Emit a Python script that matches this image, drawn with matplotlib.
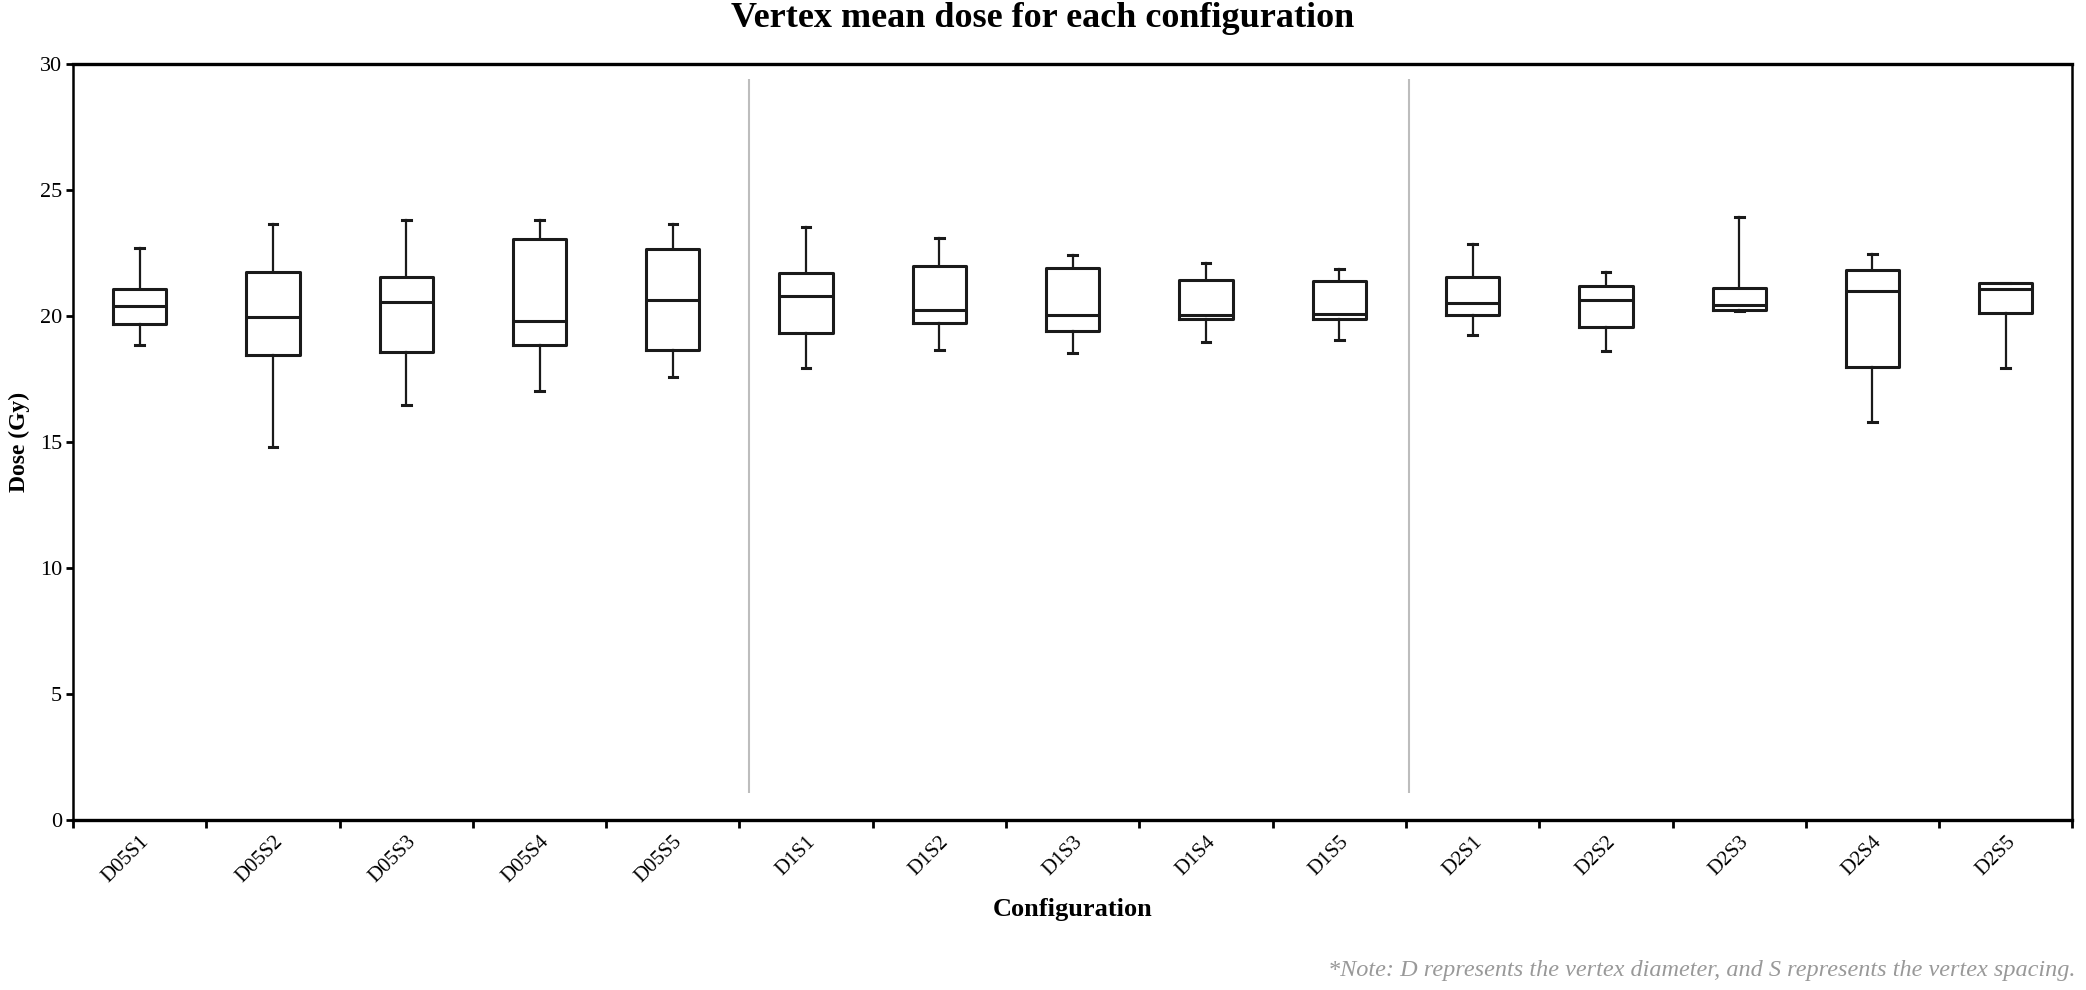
import numpy as np
import matplotlib.pyplot as plt
from matplotlib.ticker import FixedLocator

plt.rcParams['font.family'] = ['Liberation Serif', 'DejaVu Serif']

# configurations and box statistics
configs = ['D05S1', 'D05S2', 'D05S3', 'D05S4', 'D05S5',
           'D1S1', 'D1S2', 'D1S3', 'D1S4', 'D1S5',
           'D2S1', 'D2S2', 'D2S3', 'D2S4', 'D2S5']
whisker_low = [18.84, 14.79, 16.47, 17.03, 17.59,
               17.93, 18.67, 18.52, 18.96, 19.05,
               19.27, 18.61, 20.19, 15.81, 17.93]
q1 = [19.69, 18.44, 18.57, 18.84, 18.65,
      19.35, 19.73, 19.40, 19.87, 19.87,
      20.03, 19.56, 20.25, 17.99, 20.12]
median = [20.40, 19.97, 20.56, 19.80, 20.64,
          20.79, 20.25, 20.04, 20.03, 20.07,
          20.51, 20.65, 20.44, 21.00, 21.07]
q3 = [21.09, 21.77, 21.56, 23.07, 22.67,
      21.73, 21.99, 21.93, 21.43, 21.39,
      21.55, 21.20, 21.12, 21.85, 21.31]
whisker_high = [22.71, 23.67, 23.80, 23.80, 23.67,
                23.53, 23.11, 22.41, 22.11, 21.89,
                22.85, 21.77, 23.93, 22.47, 21.31]

stats = []
for i, name in enumerate(configs):
    stats.append({'label': name, 'whislo': whisker_low[i], 'q1': q1[i],
                  'med': median[i], 'q3': q3[i], 'whishi': whisker_high[i],
                  'fliers': []})

fig = plt.figure(figsize=(20.86, 9.9), dpi=100)
ax = fig.add_axes([0.035, 0.172, 0.9585, 0.763])

pos = np.arange(1, len(configs) + 1)
ax.bxp(stats, positions=pos, widths=0.4, showfliers=False, patch_artist=False,
       boxprops=dict(color='#1a1a1a', linewidth=2.2),
       medianprops=dict(color='#1a1a1a', linewidth=2.2),
       whiskerprops=dict(color='#1a1a1a', linewidth=1.6),
       capprops=dict(color='#1a1a1a', linewidth=2.2), capwidths=0.065)

# group separators
ax.vlines([5.575, 10.52], 1.05, 29.4, color='#bdbdbd', linewidth=1.5)

ax.set_xlim(0.5, 15.5)
ax.set_ylim(0, 30)
ax.set_yticks(range(0, 31, 5))
ax.set_xticks(pos)
ax.set_xticklabels(configs, rotation=45, ha='right', rotation_mode='anchor', fontsize=15)
ax.xaxis.set_minor_locator(FixedLocator(np.arange(0.5, 15.6, 1)))
ax.tick_params(axis='x', which='major', length=0, pad=9)
ax.tick_params(axis='x', which='minor', length=6, width=2, direction='out')
ax.tick_params(axis='y', length=5, width=2, labelsize=16, pad=3)

for side in ['left', 'right']:
    ax.spines[side].set_linewidth(1.8)
for side in ['top', 'bottom']:
    ax.spines[side].set_linewidth(2.4)

ax.set_xlabel('Configuration', fontsize=19, fontweight='bold', labelpad=8)
ax.set_ylabel('Dose (Gy)', fontsize=17, fontweight='bold')
ax.yaxis.set_label_coords(-0.0215, 0.5)
fig.text(0.5, 0.981, 'Vertex mean dose for each configuration', ha='center', va='center',
         fontsize=26, fontweight='bold')
fig.text(0.995, 0.02, '*Note: D represents the vertex diameter, and S represents the vertex spacing.',
         ha='right', va='center', fontsize=17.5, style='italic', color='#999999')

fig.savefig('out.png', dpi=100)
